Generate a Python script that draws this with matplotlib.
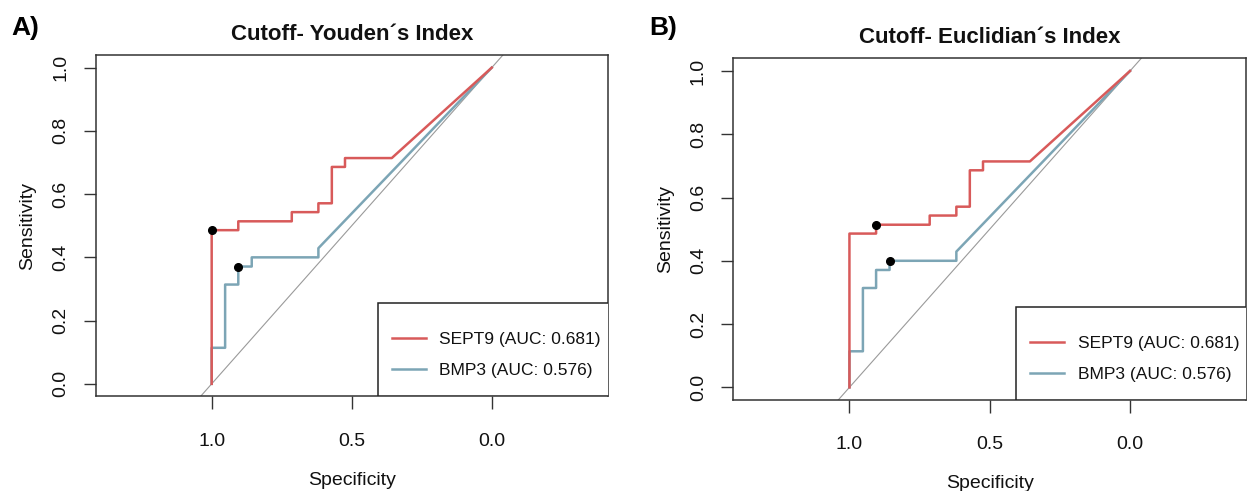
import numpy as np
import matplotlib.pyplot as plt
from matplotlib.patches import Rectangle

plt.rcParams['font.family'] = ['Liberation Sans', 'DejaVu Sans']

# ROC curve corners (specificity, sensitivity)
sept9_spec = [1.0, 1.0, 0.905, 0.905, 0.714, 0.714, 0.619, 0.619, 0.571, 0.571, 0.524, 0.524, 0.357, 0.0]
sept9_sens = [0.0, 0.486, 0.486, 0.514, 0.514, 0.543, 0.543, 0.571, 0.571, 0.686, 0.686, 0.714, 0.714, 1.0]
bmp3_spec = [1.0, 1.0, 0.952, 0.952, 0.905, 0.905, 0.857, 0.857, 0.619, 0.619, 0.0]
bmp3_sens = [0.0, 0.114, 0.114, 0.314, 0.314, 0.371, 0.371, 0.4, 0.4, 0.429, 1.0]

sept9_auc = 0.681
bmp3_auc = 0.576

# best cutoffs (spec, sens) for each method
youden_sept9 = (1.0, 0.486)
youden_bmp3 = (0.905, 0.371)
euclid_sept9 = (0.905, 0.514)
euclid_bmp3 = (0.857, 0.4)

panels = [
    ("A)", "Cutoff- Youden\u00b4s Index", youden_sept9, youden_bmp3,
     [0.0764, 0.1925, 0.4086, 0.6955]),
    ("B)", "Cutoff- Euclidian\u00b4s Index", euclid_sept9, euclid_bmp3,
     [0.5852, 0.1853, 0.4094, 0.6960]),
]

red = '#d85a5a'
blue = '#7ca5b5'
ink = '#111111'

fig = plt.figure(figsize=(12.53, 4.91), dpi=100)

for tag, title, cut_s, cut_b, rect in panels:
    ax = fig.add_axes(rect)
    ax.axline((1, 0), (0, 1), color='#9a9a9a', lw=0.8, zorder=1)
    ax.plot(bmp3_spec, bmp3_sens, color=blue, lw=1.8, zorder=2,
            label="BMP3 (AUC: %.3f)" % bmp3_auc)
    ax.plot(sept9_spec, sept9_sens, color=red, lw=1.8, zorder=3,
            label="SEPT9 (AUC: %.3f)" % sept9_auc)
    ax.plot(*cut_s, 'o', color='black', ms=5.5, zorder=4)
    ax.plot(*cut_b, 'o', color='black', ms=5.5, zorder=4)

    ax.set_xlim(1.414, -0.414)
    ax.set_ylim(-0.04, 1.04)
    ax.set_xticks([1.0, 0.5, 0.0])
    ax.set_xticklabels(['1.0', '0.5', '0.0'])
    ax.set_yticks([0.0, 0.2, 0.4, 0.6, 0.8, 1.0])
    ax.set_yticklabels(['0.0', '0.2', '0.4', '0.6', '0.8', '1.0'],
                       rotation=90, va='center')
    ax.tick_params(axis='both', length=9, width=1, color='#333333',
                   labelsize=14, labelcolor=ink)
    ax.tick_params(axis='x', pad=17)
    ax.tick_params(axis='y', pad=10)
    for sp in ax.spines.values():
        sp.set_color('#333333')
        sp.set_linewidth(1.1)

    ax.set_xlabel("Specificity", fontsize=14, color=ink)
    ax.set_ylabel("Sensitivity", fontsize=14, color=ink)
    ax.xaxis.set_label_coords(0.5, -0.22)
    ax.yaxis.set_label_coords(-0.116, 0.5)
    ax.set_title(title, fontsize=16, fontweight='bold', pad=11, color=ink)

    # legend box runs to the right and bottom edges of the plot
    ax.add_patch(Rectangle((0.552, 0.0), 0.46, 0.273, transform=ax.transAxes,
                           facecolor='white', edgecolor='#222222', lw=1.1,
                           zorder=5, clip_on=True))
    handles, labels = ax.get_legend_handles_labels()
    leg = ax.legend(handles[::-1], labels[::-1], loc='upper left',
                    bbox_to_anchor=(0.578, 0.188), frameon=False,
                    borderaxespad=0, borderpad=0, fontsize=12.5,
                    handlelength=2.0, handletextpad=0.75, labelspacing=0.9)
    leg.set_zorder(6)
    for t in leg.get_texts():
        t.set_color(ink)

    fig.text(rect[0] - 0.067, 0.943, tag, fontsize=19, fontweight='bold',
             ha='left', va='center')

fig.savefig('out.png', dpi=100)
